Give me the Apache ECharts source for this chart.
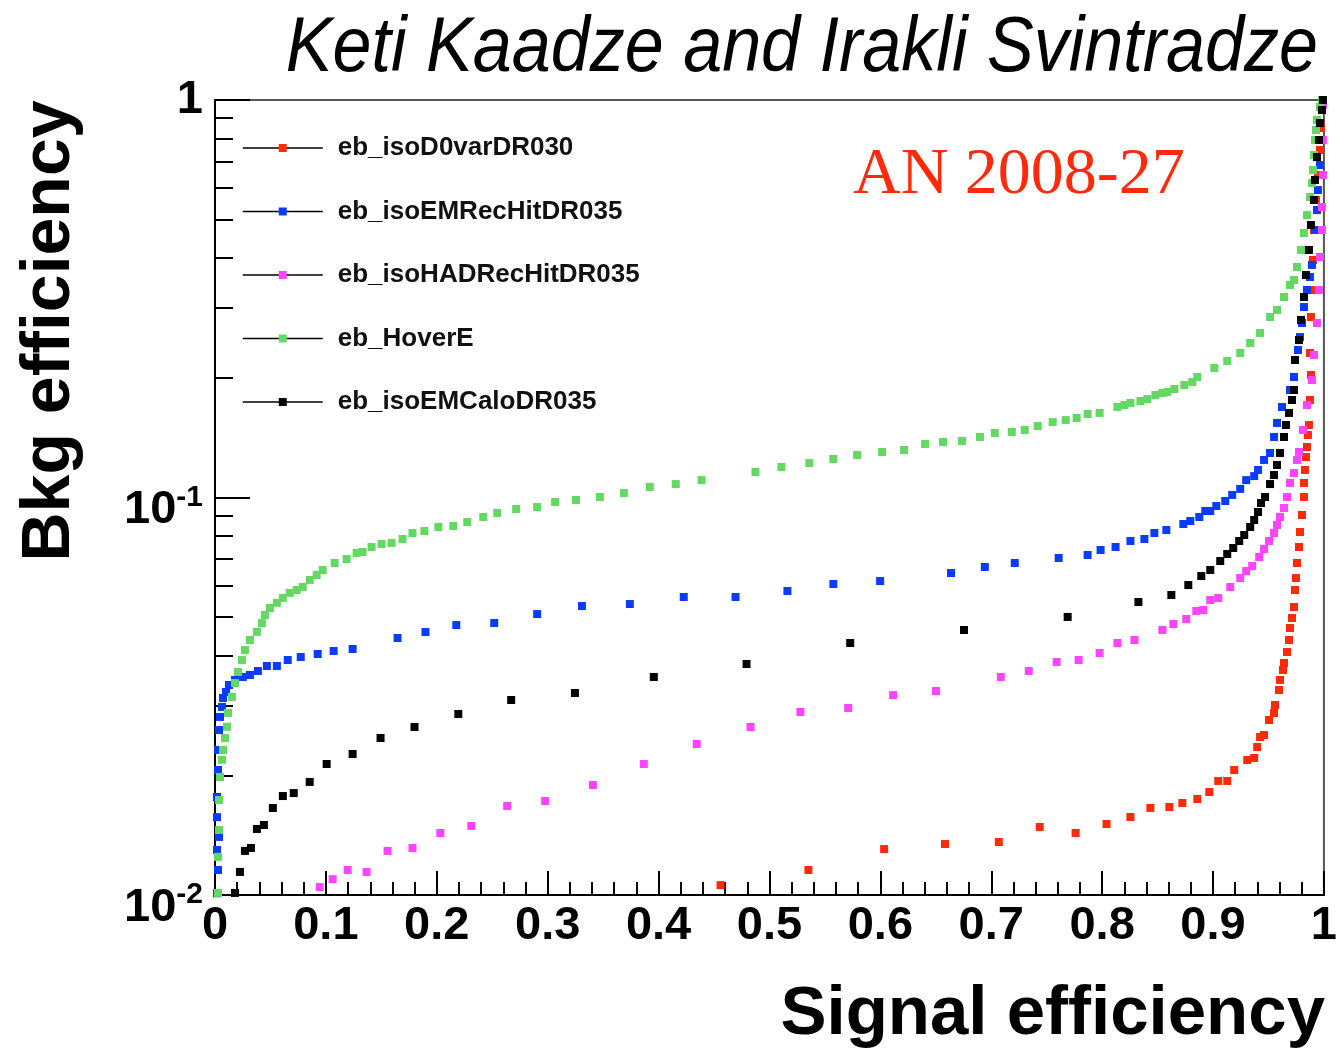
<!DOCTYPE html>
<html>
<head>
<meta charset="utf-8">
<script src="https://cdn.jsdelivr.net/npm/echarts@6/dist/echarts.min.js"></script>
<style>
html, body { margin: 0; padding: 0; background: #fff; }
#chart { width: 1340px; height: 1050px; }
</style>
</head>
<body>
<div id="chart"></div>
<script>
// Background efficiency vs signal efficiency for five barrel photon ID variables.

const seriesNames = ['eb_isoD0varDR030', 'eb_isoEMRecHitDR035', 'eb_isoHADRecHitDR035', 'eb_HoverE', 'eb_isoEMCaloDR035'];
const seriesColors = ['#ff2a0a', '#0a3cff', '#ff44ff', '#63d963', '#000000'];

// eb_isoD0varDR030
const d0Sig = [0.4559, 0.5351, 0.6034, 0.6583, 0.7068, 0.7437, 0.7761, 0.8040, 0.8255, 0.8435, 0.8606, 0.8723, 0.8858, 0.8966, 0.9047, 0.9128, 0.9191, 0.9308, 0.9371, 0.9398, 0.9424, 0.9460, 0.9505, 0.9550, 0.9559, 0.9595, 0.9604, 0.9631, 0.9640, 0.9667, 0.9685, 0.9694, 0.9712, 0.9730, 0.9739, 0.9748, 0.9757, 0.9775, 0.9784, 0.9802, 0.9820, 0.9820, 0.9829, 0.9838, 0.9847, 0.9856, 0.9865, 0.9874, 0.9883, 0.9874, 0.9883, 0.9892, 0.9901, 0.9910, 0.9928, 0.9946, 0.9964, 0.9973, 0.9991];
const d0Bkg = [0.01059, 0.01156, 0.01305, 0.01344, 0.01359, 0.01483, 0.01432, 0.01509, 0.01571, 0.01656, 0.01665, 0.01704, 0.01744, 0.01816, 0.01936, 0.01936, 0.02063, 0.02186, 0.02212, 0.02357, 0.02497, 0.02526, 0.02756, 0.02870, 0.03006, 0.03279, 0.03475, 0.03681, 0.03834, 0.04087, 0.04380, 0.04696, 0.04976, 0.05303, 0.05852, 0.06271, 0.06843, 0.07508, 0.08189, 0.09036, 0.1003, 0.1088, 0.1173, 0.1264, 0.1340, 0.1436, 0.1522, 0.1759, 0.2033, 0.2310, 0.2845, 0.3327, 0.3958, 0.4710, 0.5605, 0.6477, 0.7485, 0.8504, 0.9714];

// eb_isoEMRecHitDR035
const emRecHitSig = [0.0018, 0.0027, 0.0018, 0.0036, 0.0018, 0.0018, 0.0027, 0.0027, 0.0036, 0.0045, 0.0063, 0.0072, 0.0099, 0.0126, 0.0180, 0.0252, 0.0315, 0.0387, 0.0468, 0.0558, 0.0656, 0.0773, 0.0926, 0.1070, 0.1241, 0.1646, 0.1898, 0.2176, 0.2518, 0.2905, 0.3309, 0.3741, 0.4227, 0.4694, 0.5162, 0.5576, 0.5998, 0.6637, 0.6942, 0.7212, 0.7608, 0.7869, 0.7986, 0.8121, 0.8255, 0.8381, 0.8471, 0.8579, 0.8732, 0.8795, 0.8876, 0.8930, 0.8975, 0.9029, 0.9110, 0.9173, 0.9245, 0.9299, 0.9371, 0.9406, 0.9460, 0.9514, 0.9550, 0.9577, 0.9622, 0.9694, 0.9730, 0.9766, 0.9784, 0.9802, 0.9820, 0.9847, 0.9874, 0.9892, 0.9919, 0.9937, 0.9946, 0.9964, 0.9973, 0.9991];
const emRecHitBkg = [0.0101, 0.01156, 0.01298, 0.0140, 0.0157, 0.01764, 0.02063, 0.02317, 0.0260, 0.02805, 0.02972, 0.03131, 0.03242, 0.03376, 0.03475, 0.03536, 0.03577, 0.03661, 0.03768, 0.03768, 0.03901, 0.03969, 0.04039, 0.04110, 0.04158, 0.04431, 0.04587, 0.04777, 0.04833, 0.05091, 0.05333, 0.05395, 0.05619, 0.05619, 0.05818, 0.06058, 0.06164, 0.06456, 0.06685, 0.06843, 0.07044, 0.07167, 0.07378, 0.07508, 0.07773, 0.07864, 0.08142, 0.08285, 0.08577, 0.08728, 0.08932, 0.09247, 0.09247, 0.09519, 0.09799, 0.1015, 0.1051, 0.1106, 0.1132, 0.1173, 0.1243, 0.1294, 0.1420, 0.1540, 0.1689, 0.1864, 0.2010, 0.2350, 0.2533, 0.2748, 0.3014, 0.3327, 0.3587, 0.3846, 0.4710, 0.5288, 0.5936, 0.6863, 0.7931, 0.9714];

// eb_isoHADRecHitDR035
const hadRecHitSig = [0.0944, 0.1061, 0.1196, 0.1367, 0.1556, 0.1781, 0.2032, 0.2311, 0.2635, 0.2977, 0.3408, 0.3867, 0.4344, 0.4829, 0.5279, 0.5710, 0.6115, 0.6502, 0.7086, 0.7338, 0.7590, 0.7788, 0.7977, 0.8138, 0.8291, 0.8543, 0.8642, 0.8759, 0.8849, 0.8912, 0.8975, 0.9047, 0.9155, 0.9245, 0.9299, 0.9353, 0.9416, 0.9460, 0.9505, 0.9550, 0.9577, 0.9604, 0.9640, 0.9667, 0.9694, 0.9730, 0.9757, 0.9775, 0.9811, 0.9847, 0.9892, 0.9910, 0.9937, 0.9955, 0.9964, 0.9982, 0.9982, 0.9991, 0.9991, 0.9991];
const hadRecHitBkg = [0.01047, 0.01096, 0.01156, 0.01143, 0.01291, 0.01313, 0.01432, 0.01492, 0.01675, 0.01724, 0.01891, 0.02136, 0.02398, 0.02646, 0.02887, 0.02954, 0.03184, 0.03259, 0.03536, 0.03661, 0.03857, 0.03901, 0.04063, 0.04305, 0.04380, 0.04642, 0.04805, 0.04946, 0.05182, 0.05212, 0.05521, 0.05586, 0.05954, 0.06271, 0.06531, 0.06723, 0.07085, 0.07419, 0.07773, 0.08142, 0.08527, 0.08932, 0.09410, 0.1003, 0.1088, 0.1152, 0.1243, 0.1302, 0.1479, 0.1709, 0.1975, 0.2284, 0.2748, 0.3327, 0.4027, 0.4710, 0.5380, 0.6477, 0.7931, 0.9714];

// eb_HoverE
const hoverESig = [0.0027, 0.0027, 0.0036, 0.0036, 0.0045, 0.0063, 0.0072, 0.0090, 0.0108, 0.0117, 0.0153, 0.0180, 0.0207, 0.0243, 0.0270, 0.0315, 0.0378, 0.0423, 0.0450, 0.0495, 0.0558, 0.0612, 0.0674, 0.0737, 0.0791, 0.0854, 0.0917, 0.0971, 0.1079, 0.1187, 0.1277, 0.1331, 0.1412, 0.1502, 0.1592, 0.1691, 0.1781, 0.1888, 0.2014, 0.2149, 0.2275, 0.2419, 0.2545, 0.2716, 0.2905, 0.3067, 0.3255, 0.3471, 0.3687, 0.3921, 0.4155, 0.4388, 0.4874, 0.5108, 0.5360, 0.5576, 0.5791, 0.6016, 0.6214, 0.6403, 0.6565, 0.6736, 0.6898, 0.7032, 0.7185, 0.7302, 0.7419, 0.7554, 0.7671, 0.7770, 0.7869, 0.7977, 0.8138, 0.8201, 0.8255, 0.8345, 0.8408, 0.8480, 0.8543, 0.8588, 0.8651, 0.8741, 0.8813, 0.8858, 0.9011, 0.9128, 0.9245, 0.9335, 0.9424, 0.9514, 0.9577, 0.9640, 0.9694, 0.9730, 0.9757, 0.9793, 0.9820, 0.9847, 0.9874, 0.9892, 0.9901, 0.9910, 0.9919, 0.9928, 0.9937, 0.9964, 0.9982];
const hoverEBkg = [0.01012, 0.01247, 0.01457, 0.01734, 0.01981, 0.02188, 0.02317, 0.02483, 0.02649, 0.02871, 0.03150, 0.03414, 0.03639, 0.03899, 0.04131, 0.04380, 0.04592, 0.04831, 0.05063, 0.05272, 0.05431, 0.05589, 0.05754, 0.05852, 0.05956, 0.06202, 0.06383, 0.06571, 0.06843, 0.07004, 0.07252, 0.07294, 0.07508, 0.07638, 0.07683, 0.07864, 0.08142, 0.08236, 0.08429, 0.08478, 0.08678, 0.08932, 0.09141, 0.09357, 0.09466, 0.09743, 0.09856, 0.1003, 0.1026, 0.1063, 0.1081, 0.1106, 0.1159, 0.1193, 0.1221, 0.1250, 0.1279, 0.1302, 0.1317, 0.1364, 0.1379, 0.1387, 0.1420, 0.1453, 0.1462, 0.1479, 0.1513, 0.1548, 0.1566, 0.1585, 0.1622, 0.1632, 0.1689, 0.1709, 0.1729, 0.1749, 0.1769, 0.1811, 0.1832, 0.1843, 0.1875, 0.1919, 0.1953, 0.2010, 0.2118, 0.2205, 0.2310, 0.2447, 0.2594, 0.2845, 0.2963, 0.3195, 0.3424, 0.3525, 0.3801, 0.4195, 0.4627, 0.5135, 0.5702, 0.6183, 0.6667, 0.7271, 0.7931, 0.8406, 0.8906, 0.9603, 1.0];

// eb_isoEMCaloDR035
const emCaloSig = [0.0180, 0.0225, 0.0270, 0.0324, 0.0378, 0.0441, 0.0522, 0.0612, 0.0710, 0.0854, 0.1007, 0.1241, 0.1493, 0.1799, 0.2194, 0.2671, 0.3246, 0.3957, 0.4793, 0.5728, 0.6754, 0.7689, 0.8327, 0.8624, 0.8777, 0.8894, 0.8975, 0.9065, 0.9128, 0.9182, 0.9236, 0.9281, 0.9335, 0.9371, 0.9406, 0.9433, 0.9469, 0.9514, 0.9550, 0.9577, 0.9604, 0.9640, 0.9658, 0.9685, 0.9712, 0.9730, 0.9739, 0.9775, 0.9793, 0.9820, 0.9838, 0.9865, 0.9883, 0.9910, 0.9919, 0.9937, 0.9955, 0.9964, 0.9982, 0.9991];
const emCaloBkg = [0.01012, 0.01143, 0.01291, 0.01313, 0.01466, 0.01500, 0.01655, 0.01774, 0.01805, 0.01925, 0.02136, 0.02263, 0.02483, 0.02646, 0.02853, 0.03094, 0.03223, 0.03536, 0.03812, 0.04305, 0.04642, 0.05006, 0.05458, 0.05684, 0.06022, 0.06345, 0.06571, 0.06923, 0.07210, 0.07464, 0.07773, 0.08047, 0.08429, 0.08777, 0.09193, 0.09687, 0.1003, 0.1081, 0.1139, 0.1207, 0.1294, 0.1420, 0.1522, 0.1632, 0.1759, 0.1864, 0.2218, 0.2489, 0.2796, 0.3195, 0.3628, 0.4195, 0.4847, 0.5605, 0.6292, 0.7188, 0.7931, 0.8751, 0.9437, 1.0];

// Axis ticks and labels
const xTickStep = 0.1;
const yMajorTicks = [0.01, 0.1, 1];
const yMinorTicks = [0.02, 0.03, 0.04, 0.05, 0.06, 0.07, 0.08, 0.09, 0.2, 0.3, 0.4, 0.5, 0.6, 0.7, 0.8, 0.9];

const sigArrays = [d0Sig, emRecHitSig, hadRecHitSig, hoverESig, emCaloSig];
const bkgArrays = [d0Bkg, emRecHitBkg, hadRecHitBkg, hoverEBkg, emCaloBkg];

const SANS = '"Liberation Sans", Arial, Helvetica, sans-serif';

function pairs(xs, ys) {
  const out = [];
  const n = Math.min(xs.length, ys.length);
  for (let i = 0; i < n; i++) out.push([xs[i], ys[i]]);
  return out;
}

const series = seriesNames.map((name, i) => ({
  name: name,
  type: 'line',
  data: pairs(sigArrays[i], bkgArrays[i]),
  symbol: 'rect',
  symbolSize: 8,
  showSymbol: true,
  showAllSymbol: true,
  clip: false,
  silent: true,
  lineStyle: { opacity: 0 },
  itemStyle: { color: seriesColors[i] },
  emphasis: { disabled: true },
  animation: false
}));

const chart = echarts.init(document.getElementById('chart'), null, { renderer: 'canvas' });

chart.setOption({
  backgroundColor: '#ffffff',
  animation: false,
  grid: {
    left: 215, right: 13, top: 100, bottom: 155,
    show: true, borderColor: '#555', borderWidth: 2, backgroundColor: 'transparent'
  },
  legend: {
    orient: 'vertical',
    left: 237,
    top: 130,
    itemWidth: 80,
    itemHeight: 10,
    itemGap: 37.5,
    selectedMode: false,
    data: seriesNames,
    lineStyle: { color: '#000', width: 1.5, opacity: 1, type: 'solid' },
    textStyle: {
      fontFamily: SANS, fontWeight: 'bold', fontSize: 26, lineHeight: 26,
      color: '#111', padding: [0, 0, 0, 10]
    }
  },
  xAxis: {
    type: 'value',
    min: 0, max: 1, interval: xTickStep,
    axisLine: { show: true, lineStyle: { color: '#000', width: 2 } },
    axisTick: { show: true, inside: true, length: 24, lineStyle: { color: '#000', width: 2 } },
    minorTick: { show: true, splitNumber: 5, length: 13, lineStyle: { color: '#000', width: 2 } },
    splitLine: { show: false },
    axisLabel: {
      show: true, margin: 8, color: '#000',
      fontFamily: SANS, fontWeight: 'bold', fontSize: 47,
      showMinLabel: true, showMaxLabel: true, hideOverlap: false,
      formatter: v => (Math.abs(v) < 1e-9 ? '0' : Math.abs(v - 1) < 1e-9 ? '1' : v.toFixed(1))
    }
  },
  yAxis: [
    {
      type: 'log', logBase: 10, min: 0.01, max: 1, position: 'left',
      axisLine: { show: true, lineStyle: { color: '#000', width: 2 } },
      axisTick: { show: true, inside: true, length: 35, customValues: yMajorTicks, lineStyle: { color: '#000', width: 2 } },
      splitLine: { show: false },
      axisLabel: {
        show: true, margin: 12, color: '#000',
        customValues: yMajorTicks,
        formatter: v => {
          const e = Math.round(Math.log10(v));
          return e === 0 ? '{one|1}' : '{ten|10}{sup|' + e + '}';
        },
        rich: {
          one: { fontFamily: SANS, fontWeight: 'bold', fontSize: 47, color: '#000' },
          ten: { fontFamily: SANS, fontWeight: 'bold', fontSize: 47, color: '#000', padding: [26, 0, 0, 0] },
          sup: { fontFamily: SANS, fontWeight: 'bold', fontSize: 30, color: '#000' }
        }
      }
    },
    {
      type: 'log', logBase: 10, min: 0.01, max: 1, position: 'left', offset: 0,
      axisLine: { show: false },
      axisTick: { show: true, inside: true, length: 18, customValues: yMinorTicks, lineStyle: { color: '#000', width: 2 } },
      splitLine: { show: false },
      axisLabel: { show: false }
    }
  ],
  graphic: [
    {
      type: 'text', x: 1318, y: 50, scaleX: 0.91, silent: true,
      style: {
        text: 'Keti Kaadze and Irakli Svintradze',
        font: 'italic 77px "Liberation Sans", Arial, sans-serif',
        fill: '#000', align: 'right', verticalAlign: 'middle'
      }
    },
    {
      type: 'text', x: 853, y: 176, silent: true,
      style: {
        text: 'AN 2008-27',
        font: '66px "Liberation Serif", "Times New Roman", serif',
        fill: '#ff2a0a', align: 'left', verticalAlign: 'middle'
      }
    },
    {
      type: 'text', x: 1325, y: 1015, silent: true,
      style: {
        text: 'Signal efficiency',
        font: 'bold 69px ' + SANS,
        fill: '#000', align: 'right', verticalAlign: 'middle'
      }
    },
    {
      type: 'text', x: 50, y: 331, rotation: Math.PI / 2, silent: true,
      style: {
        text: 'Bkg efficiency',
        font: 'bold 68px ' + SANS,
        fill: '#000', align: 'center', verticalAlign: 'middle'
      }
    }
  ],
  series: series
});
</script>
</body>
</html>
